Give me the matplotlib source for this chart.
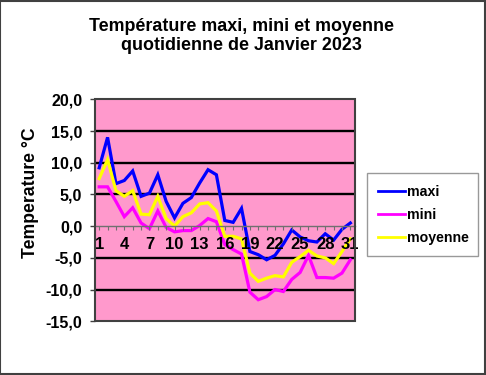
import numpy as np
import matplotlib
matplotlib.use("Agg")
import matplotlib.pyplot as plt
from matplotlib.patches import Rectangle

plt.rcParams['font.family'] = ['Liberation Sans', 'DejaVu Sans']
plt.rcParams['font.weight'] = 'bold'

# daily values, January 2023
days = list(range(1, 32))
maxi = [9.2, 14.0, 6.7, 7.2, 8.7, 4.7, 5.2, 8.1, 3.9, 1.3,
        3.6, 4.5, 6.8, 8.9, 8.1, 0.9, 0.6, 2.8, -4.0, -4.5,
        -5.3, -4.6, -2.8, -0.6, -1.7, -2.3, -2.5, -1.2, -2.2, -0.5, 0.5]
mini = [6.2, 6.2, 3.9, 1.5, 2.9, 0.5, -0.4, 2.4, -0.2, -0.9,
        -0.7, -0.7, 0.1, 1.2, 0.7, -2.9, -3.7, -4.4, -10.4, -11.6,
        -11.1, -10.0, -10.3, -8.4, -7.3, -4.6, -8.1, -8.1, -8.2, -7.4, -5.3]
moyenne = [7.5, 10.5, 5.6, 4.7, 5.6, 1.9, 1.8, 4.7, 1.2, 0.0,
           1.5, 2.1, 3.5, 3.7, 2.4, -1.6, -1.6, -2.0, -7.4, -8.7,
           -8.2, -7.8, -8.0, -5.7, -4.8, -3.8, -4.7, -5.0, -5.9, -4.0, -2.0]

series_names = ["maxi", "mini", "moyenne"]
series_colors = ["#0000FF", "#FF00FF", "#FFFF00"]

yticks = [20, 15, 10, 5, 0, -5, -10, -15]
ytick_labels = ["20,0", "15,0", "10,0", "5,0", "0,0", "-5,0", "-10,0", "-15,0"]
xtick_days = days[::3]

title = "Température maxi, mini et moyenne\nquotidienne de Janvier 2023"
ylabel = "Temperature °C"

fig = plt.figure(figsize=(4.86, 3.75), dpi=100)
ax = fig.add_axes([0.1955, 0.1432, 0.534, 0.592])
ax.set_facecolor("#FF99CC")

ax.set_xlim(0.5, 31.5)
ax.set_ylim(min(yticks), max(yticks))

# black gridlines (not on 0 and not on the frame)
for v in yticks:
    if v != 0 and v != max(yticks) and v != min(yticks):
        ax.axhline(v, color="black", lw=1.7, zorder=1)

for vals, name, col in zip([maxi, mini, moyenne], series_names, series_colors):
    ax.plot(days, vals, color=col, lw=2.3, label=name, zorder=2,
            solid_joinstyle="miter")

# x axis crossing at 0, labels drawn over the lines
for s in ["top", "right", "left"]:
    ax.spines[s].set_visible(False)
ax.spines["bottom"].set_position(("data", 0))
ax.spines["bottom"].set_color("#707070")
ax.spines["bottom"].set_linewidth(1.0)
ax.spines["bottom"].set_zorder(2.5)
ax.xaxis.set_zorder(4)

ax.set_xticks(xtick_days)
ax.set_xticklabels([str(d) for d in xtick_days], fontsize=12, fontweight="bold")
ax.set_xticks(days, minor=True)
ax.tick_params(axis="x", which="both", direction="out", length=3, width=0.8,
               color="#707070", pad=4.5)

ax.set_yticks(yticks)
ax.set_yticklabels(ytick_labels, fontsize=11.5, fontweight="bold")
ax.tick_params(axis="y", direction="out", length=3.6, width=1.0,
               color="#404040", pad=5.5)

# plot area frame
ax.add_patch(Rectangle((0, 0), 1, 1, transform=ax.transAxes, fill=False,
                       ec="#404040", lw=1.5, clip_on=False, zorder=5))

fig.text(0.497, 0.904, title, ha="center", va="center", fontsize=12.9,
         fontweight="bold", linespacing=1.2)
fig.text(0.062, 0.485, ylabel, ha="center", va="center", rotation=90,
         fontsize=12.7, fontweight="bold")

leg = fig.legend(loc="upper left", bbox_to_anchor=(0.755, 0.341, 0.228, 0.197),
                 mode="expand", handlelength=1.9,
                 labelspacing=0.65, borderaxespad=0, fancybox=False,
                 prop={"weight": "bold", "size": 10.2}, handletextpad=0.15,
                 borderpad=0.8)
leg.get_frame().set_edgecolor("#808080")
leg.get_frame().set_linewidth(1.0)
for line in leg.get_lines():
    line.set_linewidth(2.0)

# outer border of the chart
fig.add_artist(Rectangle((0.001, 0.002), 0.997, 0.996, transform=fig.transFigure,
                         fill=False, ec="#404040", lw=1.5))

fig.savefig("out.png", dpi=100)
plt.close(fig)
